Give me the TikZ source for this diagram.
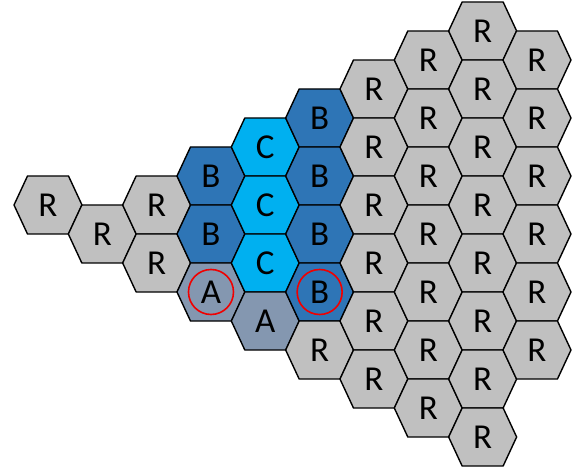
\documentclass[tikz,border=0pt]{standalone}
\usepackage{fontspec}
\setmainfont{Carlito}
\definecolor{cellR}{HTML}{C0C0C0}
\definecolor{cellB}{HTML}{2E75B6}
\definecolor{cellC}{HTML}{00B0F0}
\definecolor{cellA}{HTML}{8497B0}
\definecolor{ringred}{HTML}{F00000}
\begin{document}
\begin{tikzpicture}[x=1pt,y=-1pt,
  hexcell/.style={draw=black,line width=1.4pt,line join=round},
  celltext/.style={font=\fontsize{35}{35}\selectfont,inner sep=0pt,text=black},
  ring/.style={draw=ringred,line width=1.6pt}]
\useasboundingbox (0,0) rectangle (579,468);
% column index k, half-row index j, cell type
\foreach \k/\j/\t in {
  0/6/R,
  1/7/R,
  2/6/R, 2/8/R,
  3/5/B, 3/7/B, 3/9/A,
  4/4/C, 4/6/C, 4/8/C, 4/10/A,
  5/3/B, 5/5/B, 5/7/B, 5/9/B, 5/11/R,
  6/2/R, 6/4/R, 6/6/R, 6/8/R, 6/10/R, 6/12/R,
  7/1/R, 7/3/R, 7/5/R, 7/7/R, 7/9/R, 7/11/R, 7/13/R,
  8/0/R, 8/2/R, 8/4/R, 8/6/R, 8/8/R, 8/10/R, 8/12/R, 8/14/R,
  9/1/R, 9/3/R, 9/5/R, 9/7/R, 9/9/R, 9/11/R} {
  \path[hexcell,fill=cell\t,shift={({48+54.33*\k},{31+29*\j})}]
    (-34,0) -- (-20.5,-29) -- (20.5,-29) -- (34,0) -- (20.5,29) -- (-20.5,29) -- cycle;
  \node[celltext] (h-\k-\j) at ({48+54.33*\k},{31+29*\j}) {\t};
}
\draw[ring] (h-3-9) circle (22.5pt);
\draw[ring] (h-5-9) circle (22.5pt);
\end{tikzpicture}
\end{document}
